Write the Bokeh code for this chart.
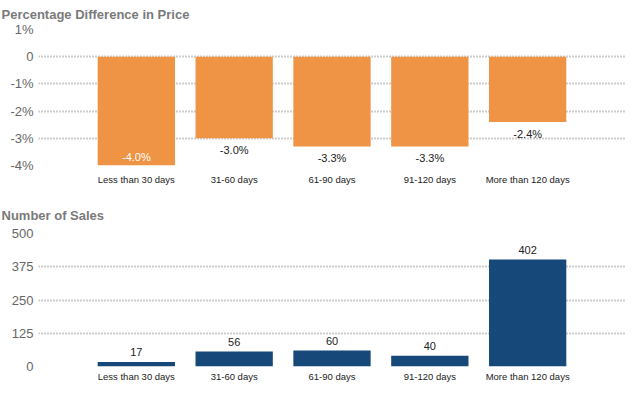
from bokeh.plotting import figure
from bokeh.layouts import column
from bokeh.models import ColumnDataSource, FixedTicker, Range1d
from bokeh.embed import file_html
from bokeh.resources import INLINE

categories = ["Less than 30 days", "31-60 days", "61-90 days", "91-120 days", "More than 120 days"]
pct_diff = [-4.0, -3.0, -3.3, -3.3, -2.4]
sales = [17, 56, 60, 40, 402]
pct_ticks = [-4, -3, -2, -1, 0, 1]
pct_tick_labels = ["-4%", "-3%", "-2%", "-1%", "0", "1%"]
sales_ticks = [0, 125, 250, 375, 500]

ORANGE = "#EE9444"
NAVY = "#17487A"
FONT = "Liberation Sans"

xs = [i + 1 for i in range(len(categories))]
cat_labels = {x: c for x, c in zip(xs, categories)}


def style(p, title_offset, title_standoff):
    p.title.text_font = FONT
    p.title.text_font_size = "13px"
    p.title.text_font_style = "bold"
    p.title.text_color = "#7a7a7a"
    p.title.align = "left"
    p.title.offset = title_offset
    p.title.standoff = title_standoff
    p.outline_line_color = None
    p.xgrid.grid_line_color = None
    p.ygrid.grid_line_color = "#9a9a9a"
    p.ygrid.grid_line_dash = "1 2"
    p.ygrid.grid_line_width = 2
    for ax in (p.xaxis, p.yaxis):
        ax.axis_line_color = None
        ax.major_tick_line_color = None
        ax.minor_tick_line_color = None
        ax.major_tick_out = 0
        ax.major_tick_in = 0
        ax.minor_tick_out = 0
        ax.minor_tick_in = 0
        ax.major_label_text_font = FONT
    p.yaxis.major_label_text_font_size = "13px"
    p.yaxis.major_label_text_color = "#666666"
    p.yaxis.major_label_standoff = 5
    p.xaxis.major_label_text_font_size = "9.5px"
    p.xaxis.major_label_text_color = "#222222"
    p.xaxis.ticker = FixedTicker(ticks=xs)
    p.xaxis.major_label_overrides = cat_labels
    p.background_fill_color = "white"
    p.border_fill_color = "white"


# --- Top chart ---
p1 = figure(width=629, height=192, output_backend="svg", toolbar_location=None,
            title="Percentage Difference in Price",
            x_range=Range1d(0, 6), y_range=Range1d(pct_ticks[0], pct_ticks[-1]),
            min_border_left=42, min_border_right=0, min_border_top=33, min_border_bottom=23)
style(p1, -37, 16)
p1.yaxis.ticker = FixedTicker(ticks=pct_ticks)
p1.yaxis.major_label_overrides = {t: l for t, l in zip(pct_ticks, pct_tick_labels)}
p1.xaxis.major_label_standoff = 8

src1 = ColumnDataSource(dict(x=xs, top=pct_diff, bottom=[0] * len(xs),
                             label=["%.1f%%" % v for v in pct_diff]))
p1.vbar(x="x", top="top", bottom="bottom", width=0.79, source=src1,
        fill_color=ORANGE, line_color=None)

limit = pct_ticks[0] + 0.4
outside = [i for i, v in enumerate(pct_diff) if v > limit]
inside = [i for i, v in enumerate(pct_diff) if v <= limit]
src_out = ColumnDataSource(dict(x=[xs[i] for i in outside], y=[pct_diff[i] for i in outside],
                                t=["%.1f%%" % pct_diff[i] for i in outside]))
src_in = ColumnDataSource(dict(x=[xs[i] for i in inside], y=[pct_diff[i] for i in inside],
                               t=["%.1f%%" % pct_diff[i] for i in inside]))
p1.text(x="x", y="y", text="t", source=src_out, text_align="center", text_baseline="top",
        y_offset=6, text_font_size="11px", text_color="#222222", text_font={"value": FONT})
p1.text(x="x", y="y", text="t", source=src_in, text_align="center", text_baseline="bottom",
        y_offset=-3, text_font_size="11px", text_color="white", text_font={"value": FONT})

# --- Bottom chart ---
p2 = figure(width=629, height=196, output_backend="svg", toolbar_location=None,
            title="Number of Sales",
            x_range=Range1d(0, 6), y_range=Range1d(sales_ticks[0], sales_ticks[-1]),
            min_border_left=42, min_border_right=0, min_border_top=45, min_border_bottom=16)
style(p2, -37, 22)
p2.yaxis.ticker = FixedTicker(ticks=sales_ticks)
p2.xaxis.major_label_standoff = 4

src2 = ColumnDataSource(dict(x=xs, top=sales, label=[str(v) for v in sales]))
p2.vbar(x="x", top="top", bottom=0, width=0.79, source=src2,
        fill_color=NAVY, line_color=None)
p2.text(x="x", y="top", text="label", source=src2, text_align="center", text_baseline="bottom",
        y_offset=-6, text_font_size="11px", text_color="#222222", text_font={"value": FONT})

layout = column(p1, p2, spacing=0, styles={"margin-left": "-4px", "margin-top": "-4px"})

open("out.html", "w").write(file_html(layout, INLINE))
